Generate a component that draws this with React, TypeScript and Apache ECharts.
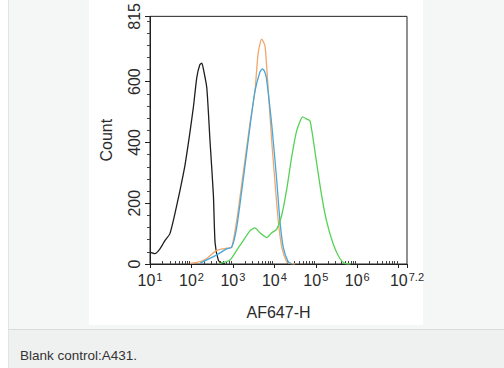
import React, { useEffect, useRef } from "react";
import * as echarts from "echarts";

// x values are log10(AF647-H intensity), y values are counts
const blackX = [1.0, 1.12, 1.24, 1.36, 1.48, 1.6, 1.72, 1.84, 1.96, 2.05, 2.13, 2.2, 2.25, 2.29, 2.37, 2.45, 2.53, 2.57, 2.65, 2.73, 2.81];
const blackY = [39, 34, 50, 77, 100, 165, 240, 322, 430, 520, 615, 655, 661, 640, 580, 400, 225, 70, 12, 2, 0];

const orangeX = [1.965, 2.21, 2.37, 2.61, 2.85, 2.97, 3.09, 3.25, 3.41, 3.53, 3.61, 3.695, 3.775, 3.855, 3.935, 4.015, 4.095, 4.18, 4.3, 4.38, 4.5];
const orangeY = [2, 8, 18, 45, 52, 55, 141, 301, 461, 567, 695, 740, 717, 567, 407, 269, 141, 55, 7, 2, 0];

const blueX = [2.21, 2.61, 2.85, 2.97, 3.09, 3.25, 3.41, 3.53, 3.65, 3.71, 3.76, 3.81, 3.935, 4.055, 4.135, 4.215, 4.335, 4.43];
const blueY = [3, 30, 50, 55, 119, 279, 450, 567, 631, 642, 635, 610, 461, 279, 141, 55, 7, 0];

const greenX = [2.69, 2.93, 3.09, 3.25, 3.41, 3.53, 3.65, 3.815, 3.935, 4.055, 4.18, 4.3, 4.42, 4.54, 4.685, 4.78, 4.86, 4.94, 5.02, 5.14, 5.26, 5.42, 5.58, 5.7, 5.83];
const greenY = [2, 13, 45, 77, 109, 119, 103, 87, 103, 114, 162, 247, 354, 439, 484, 477, 471, 407, 333, 226, 141, 66, 18, 2, 0];

const xLabelValues = [1, 2, 3, 4, 5, 6, 7.2];
const xMajorTicks = [1, 2, 3, 4, 5, 6, 7, 7.2];
const yLabelValues = [0, 200, 400, 600, 815];
const yMinorTicks = [40, 80, 120, 160, 240, 280, 320, 360, 440, 480, 520, 560, 640, 680, 720, 760, 800];
const decadeMultipliers = [2, 3, 4, 5, 6, 7, 8, 9];

const xMin = 1;
const xMax = 7.2;
const yMax = 815;

function pairs(xs: number[], ys: number[]) {
  return xs.map((x, i) => [x, ys[i]]);
}

export default function App() {
  const ref = useRef<HTMLDivElement>(null);

  useEffect(() => {
    if (!ref.current) return;
    const chart = echarts.init(ref.current, undefined, { renderer: "svg" });
    const xMinor: number[] = [];
    for (let d = 1; d < 8; d++) {
      decadeMultipliers.forEach((m) => {
        const v = d + Math.log10(m);
        if (v < xMax) xMinor.push(v);
      });
    }
    const font = "Arial, 'Liberation Sans', sans-serif";
    const lineSeries = (name: string, xs: number[], ys: number[], color: string) => ({
      type: "line",
      name,
      data: pairs(xs, ys),
      showSymbol: false,
      smooth: 0.2,
      lineStyle: { color, width: 1.3 },
      xAxisIndex: 0,
      yAxisIndex: 0,
    });
    chart.setOption({
      animation: false,
      backgroundColor: "transparent",
      grid: {
        left: 150,
        right: 97,
        top: 9,
        bottom: 104,
        show: true,
        borderColor: "#222",
        borderWidth: 1,
        backgroundColor: "#fff",
      },
      xAxis: [
        {
          type: "value",
          min: xMin,
          max: xMax,
          name: "AF647-H",
          nameLocation: "middle",
          nameGap: 40,
          nameTextStyle: { fontFamily: font, fontSize: 16, color: "#2a2a2a" },
          axisLine: { lineStyle: { color: "#222", width: 1 } },
          axisTick: { customValues: xMajorTicks, length: 4, lineStyle: { color: "#222" } },
          splitLine: { show: false },
          axisLabel: {
            customValues: xLabelValues,
            margin: 7,
            formatter: (v: number) => `{b|10}{s|${Math.round(v * 10) / 10}}`,
            rich: {
              b: { fontFamily: font, fontSize: 16, color: "#2a2a2a" },
              s: { fontFamily: font, fontSize: 11, color: "#2a2a2a", padding: [0, 0, 8, 1] },
            },
          },
        },
        {
          type: "value",
          min: xMin,
          max: xMax,
          position: "bottom",
          axisLine: { show: false },
          axisTick: { customValues: xMinor, inside: true, length: 3, lineStyle: { color: "#444" } },
          axisLabel: { show: false },
          splitLine: { show: false },
        },
      ],
      yAxis: [
        {
          type: "value",
          min: 0,
          max: yMax,
          name: "Count",
          nameLocation: "middle",
          nameGap: 36,
          nameTextStyle: { fontFamily: font, fontSize: 16, color: "#2a2a2a" },
          axisLine: { show: true, lineStyle: { color: "#222", width: 1 } },
          axisTick: { show: true, customValues: yLabelValues, length: 5, lineStyle: { color: "#222" } },
          splitLine: { show: false },
          axisLabel: {
            customValues: yLabelValues,
            rotate: 90,
            margin: 8,
            fontFamily: font,
            fontSize: 16,
            color: "#2a2a2a",
          },
        },
        {
          type: "value",
          min: 0,
          max: yMax,
          position: "left",
          axisLine: { show: false },
          axisTick: { show: true, customValues: yMinorTicks, length: 3, lineStyle: { color: "#444" } },
          axisLabel: { show: false },
          splitLine: { show: false },
        },
      ],
      series: [
        lineSeries("Blank control", blackX, blackY, "#1e1e1e"),
        lineSeries("Orange", orangeX, orangeY, "#f2a66a"),
        lineSeries("Blue", blueX, blueY, "#45a7dc"),
        lineSeries("Green", greenX, greenY, "#55d255"),
      ],
      graphic: [
        {
          type: "text",
          left: 20,
          top: 348,
          style: {
            text: "Blank control:A431.",
            fontFamily: font,
            fontSize: 13.5,
            fill: "#333",
          },
        },
      ],
    });
    return () => chart.dispose();
  }, []);

  return (
    <div style={{ position: "absolute", left: 0, top: 0, width: 504, height: 368, background: "#fff", overflow: "hidden" }}>
      <div style={{ position: "absolute", left: 8, top: 0, width: 496, height: 329, background: "#f5f6f6", borderLeft: "1px solid #e2e4e4" }} />
      <div style={{ position: "absolute", left: 8, top: 329, width: 496, height: 39, background: "#eff0f0", borderTop: "1px solid #dadcdc", borderLeft: "1px solid #e2e4e4" }} />
      <div style={{ position: "absolute", left: 89, top: 0, width: 334, height: 325, background: "#fff" }} />
      <div ref={ref} style={{ position: "absolute", left: 0, top: 0, width: 504, height: 368 }} />
    </div>
  );
}
